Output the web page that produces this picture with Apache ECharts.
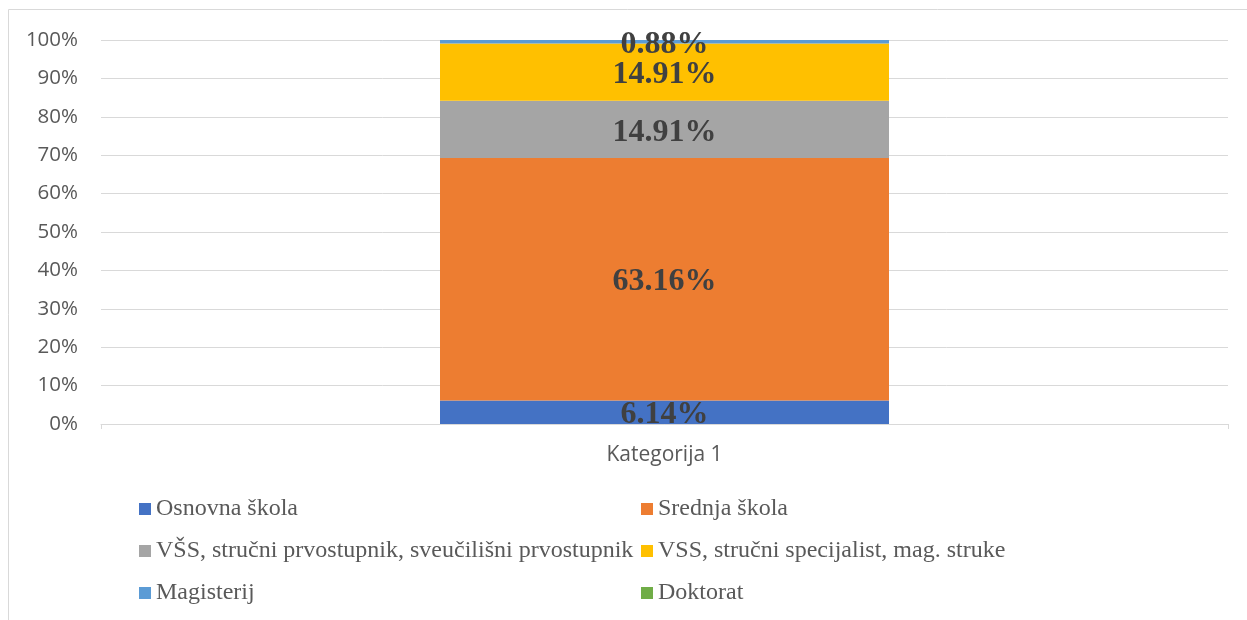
<!DOCTYPE html>
<html>
<head>
<meta charset="utf-8">
<script src="https://cdn.jsdelivr.net/npm/echarts@6/dist/echarts.min.js"></script>
<style>
  * { margin: 0; padding: 0; }
  html, body { width: 1247px; height: 620px; background: #fff; }
  #main { width: 1247px; height: 620px; }
</style>
</head>
<body>
<div id="main"></div>
<script>
// podaci
var categories = ['Kategorija 1']
var seriesNames = ['Osnovna škola', 'Srednja škola', 'VŠS, stručni prvostupnik, sveučilišni prvostupnik', 'VSS, stručni specijalist, mag. struke', 'Magisterij', 'Doktorat']
var osnovna = [6.14]
var srednja = [63.16]
var vss1 = [14.91]
var vss2 = [14.91]
var magisterij = [0.88]
var doktorat = [0]
var seriesValues = [osnovna, srednja, vss1, vss2, magisterij, doktorat]
var colors = ['#4472C4', '#ED7D31', '#A5A5A5', '#FFC000', '#5B9BD5', '#70AD47']

// pozicije legende (stupac, red)
var legendPos = [[139, 497], [641, 497], [139, 539], [641, 539], [139, 581], [641, 581]]

var myChart = echarts.init(document.getElementById('main'))

var series = seriesNames.map(function (name, i) {
  return {
    name: name,
    type: 'bar',
    stack: 'total',
    barWidth: 449,
    data: seriesValues[i],
    itemStyle: { color: colors[i] },
    label: {
      show: true,
      position: 'inside',
      offset: [0, 3],
      fontFamily: 'Liberation Serif',
      fontWeight: 'bold',
      fontSize: 32,
      color: '#404040',
      formatter: function (p) { return p.value ? p.value.toFixed(2) + '%' : '' }
    }
  }
})

var legends = seriesNames.map(function (name, i) {
  return {
    data: [name],
    left: legendPos[i][0],
    top: legendPos[i][1],
    padding: 0,
    itemWidth: 12,
    itemHeight: 12,
    itemGap: 0,
    icon: 'rect',
    selectedMode: false,
    textStyle: { fontFamily: 'Liberation Serif', fontSize: 24, color: '#595959' }
  }
})

var option = {
  animation: false,
  color: colors,
  grid: { left: 101, right: 19, top: 40, bottom: 196 },
  legend: legends,
  xAxis: {
    type: 'category',
    data: categories,
    axisLine: { lineStyle: { color: '#d9d9d9', width: 1 } },
    axisTick: { show: true, length: 5, lineStyle: { color: '#d9d9d9' } },
    axisLabel: { margin: 21, fontFamily: 'Open Sans', fontSize: 21, color: '#595959' }
  },
  yAxis: {
    type: 'value',
    min: 0,
    max: 100,
    interval: 10,
    axisLine: { show: false },
    axisTick: { show: false },
    splitLine: { lineStyle: { color: '#d9d9d9', width: 1 } },
    axisLabel: { margin: 23, fontFamily: 'Open Sans', fontSize: 20.5, color: '#595959', formatter: '{value}%' }
  },
  graphic: [
    { type: 'line', shape: { x1: 8.5, y1: 9.5, x2: 1247, y2: 9.5 }, style: { stroke: '#d9d9d9', lineWidth: 1 } },
    { type: 'line', shape: { x1: 8.5, y1: 9.5, x2: 8.5, y2: 620 }, style: { stroke: '#d9d9d9', lineWidth: 1 } }
  ],
  series: series
}

myChart.setOption(option)
</script>
</body>
</html>
